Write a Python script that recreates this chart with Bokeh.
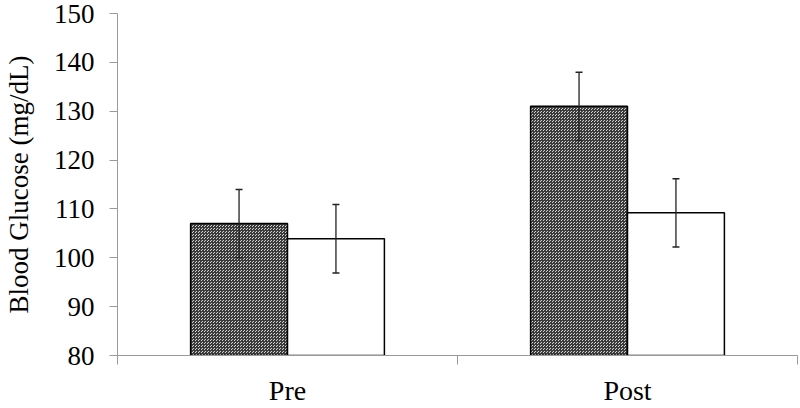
from bokeh.plotting import figure
from bokeh.models import Range1d, FixedTicker, ColumnDataSource, Whisker, TeeHead
from bokeh.embed import file_html
from bokeh.resources import INLINE

# ---- data ----
categories = ["Pre", "Post"]
group_a_mean = [107.0, 131.0]     # patterned bars
group_a_err = [7.0, 7.0]
group_b_mean = [103.9, 109.2]     # white bars
group_b_err = [7.0, 7.0]
y_ticks = [80, 90, 100, 110, 120, 130, 140, 150]

FONT = "Liberation Serif"
AXIS_GREY = "#9a9a9a"
bar_w = 0.285

centers = [i + 0.5 for i in range(len(categories))]
xa = [c - bar_w / 2 for c in centers]
xb = [c + bar_w / 2 for c in centers]

src_a = ColumnDataSource(dict(
    x=xa, top=group_a_mean,
    upper=[m + e for m, e in zip(group_a_mean, group_a_err)],
    lower=[m - e for m, e in zip(group_a_mean, group_a_err)]))
src_b = ColumnDataSource(dict(
    x=xb, top=group_b_mean,
    upper=[m + e for m, e in zip(group_b_mean, group_b_err)],
    lower=[m - e for m, e in zip(group_b_mean, group_b_err)]))

p = figure(width=800, height=408, output_backend="svg", toolbar_location=None,
           x_range=Range1d(0, len(categories)), y_range=Range1d(80, 150),
           min_border_left=113, min_border_right=3, min_border_top=13,
           min_border_bottom=50)
p.outline_line_color = None
p.xgrid.visible = False
p.ygrid.visible = False
p.background_fill_color = "white"
p.border_fill_color = "white"

p.vbar(x="x", top="top", bottom=80, width=bar_w, source=src_a,
       fill_color="#d2d2d2", hatch_pattern="criss_cross", hatch_scale=3,
       hatch_color="#3a3a3a", hatch_weight=1, line_color="black", line_width=1.5)
p.vbar(x="x", top="top", bottom=80, width=bar_w, source=src_b,
       fill_color="white", line_color="black", line_width=1.5)

for src in (src_a, src_b):
    w = Whisker(base="x", upper="upper", lower="lower", source=src,
                line_color="#222222", line_width=1.3, level="overlay",
                upper_head=TeeHead(size=7, line_color="#222222", line_width=1.5),
                lower_head=TeeHead(size=7, line_color="#222222", line_width=1.5))
    p.add_layout(w)

# y axis
yax = p.yaxis[0]
yax.ticker = FixedTicker(ticks=y_ticks)
yax.axis_label = "Blood Glucose (mg/dL)"
yax.axis_label_text_font = FONT
yax.axis_label_text_font_size = "27px"
yax.axis_label_text_font_style = "normal"
yax.axis_label_text_color = "black"
yax.axis_label_standoff = 17
yax.major_label_text_font = FONT
yax.major_label_text_font_size = "27px"
yax.major_label_text_color = "black"
yax.major_label_standoff = 15
yax.axis_line_color = AXIS_GREY
yax.major_tick_line_color = AXIS_GREY
yax.major_tick_out = 8
yax.major_tick_in = 0
yax.minor_tick_line_color = None

# x axis: labels at category centres, ticks at category boundaries
xax = p.xaxis[0]
xax.ticker = FixedTicker(ticks=centers,
                         minor_ticks=[float(i) for i in range(len(categories) + 1)])
xax.major_label_overrides = {c: name for c, name in zip(centers, categories)}
xax.major_label_text_font = FONT
xax.major_label_text_font_size = "28px"
xax.major_label_text_color = "black"
xax.major_label_text_line_height = 0.9
xax.major_label_standoff = 10
xax.axis_line_color = AXIS_GREY
xax.major_tick_line_color = None
xax.minor_tick_line_color = AXIS_GREY
xax.minor_tick_out = 9
xax.minor_tick_in = 0

open("out.html", "w").write(file_html(p, INLINE))
